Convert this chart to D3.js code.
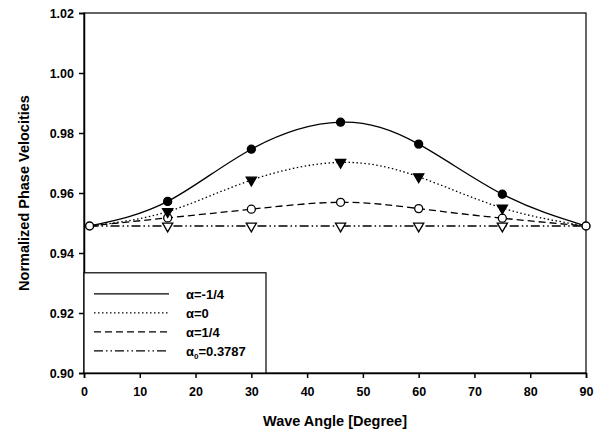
<!DOCTYPE html>
<html>
<head>
<meta charset="utf-8">
<script src="https://cdn.jsdelivr.net/npm/d3@7"></script>
<style>
body { margin: 0; background: #fff; }
svg { font-family: "Liberation Sans", Arial, sans-serif; }
.axis text { font-size: 12.5px; font-weight: bold; }
.axis path, .axis line { stroke: #000; stroke-width: 1.5; }
</style>
</head>
<body>
<script>
// data
var angles = [1, 15, 30, 46, 60, 75, 90];
var alphaNeg = [0.949, 0.9572, 0.9746, 0.9836, 0.9763, 0.9596, 0.949];
var alphaZero = [0.949, 0.9538, 0.9643, 0.9702, 0.9654, 0.9550, 0.949];
var alphaPos = [0.949, 0.9517, 0.9546, 0.9569, 0.9548, 0.9516, 0.949];
var alphaOpt = [0.949, 0.949, 0.949, 0.949, 0.949, 0.949, 0.949];
var xTicks = [0, 10, 20, 30, 40, 50, 60, 70, 80, 90];
var yTicks = [0.90, 0.92, 0.94, 0.96, 0.98, 1.00, 1.02];

var margin = {top: 13, right: 13, bottom: 61, left: 84},
    width = 599 - margin.left - margin.right,
    height = 434 - margin.top - margin.bottom;

var svg = d3.select("body").append("svg")
    .attr("width", 599)
    .attr("height", 434)
    .append("g")
        .attr("transform", "translate(" + margin.left + "," + margin.top + ")");

var x = d3.scaleLinear().domain([0, 90]).range([0, width]);
var y = d3.scaleLinear().domain([0.90, 1.02]).range([height, 0]);

// frame
svg.append("rect")
    .attr("width", width).attr("height", height)
    .attr("fill", "none").attr("stroke", "#000").attr("stroke-width", 1.2);

svg.append("g")
    .attr("class", "axis")
    .attr("transform", "translate(0," + height + ")")
    .call(d3.axisBottom(x).tickValues(xTicks).tickSize(5).tickPadding(9).tickFormat(d3.format("d")));

svg.append("g")
    .attr("class", "axis")
    .call(d3.axisLeft(y).tickValues(yTicks).tickSize(5).tickPadding(5).tickFormat(d3.format(".2f")));

svg.append("text")
    .attr("x", width / 2).attr("y", height + 53)
    .attr("text-anchor", "middle")
    .style("font-size", "14.5px").style("font-weight", "bold")
    .text("Wave Angle [Degree]");

svg.append("text")
    .attr("transform", "translate(" + (-55) + "," + (height / 2) + ") rotate(-90)")
    .attr("text-anchor", "middle")
    .style("font-size", "14.5px").style("font-weight", "bold")
    .text("Normalized Phase Velocities");

var series = [
    {vals: alphaNeg, dash: null, mark: "circle", fill: "#000", label: "α=-1/4"},
    {vals: alphaZero, dash: "1.5,2.5", mark: "tri", fill: "#000", label: "α=0"},
    {vals: alphaPos, dash: "7,4", mark: "circle", fill: "#fff", label: "α=1/4"},
    {vals: alphaOpt, dash: "9,3,1.5,3,1.5,3", mark: "tri", fill: "#fff", label: "α0=0.3787"}
];

var line = d3.line()
    .x(function(d) { return x(d[0]); })
    .y(function(d) { return y(d[1]); })
    .curve(d3.curveNatural);

var tri = d3.symbol().type(d3.symbolTriangle).size(45);

// draw lines then markers, last series first so -1/4 on top
for (var i = series.length - 1; i >= 0; i--) {
    var s = series[i];
    var pts = angles.map(function(a, k) { return [a, s.vals[k]]; });
    svg.append("path")
        .attr("d", line(pts))
        .attr("fill", "none")
        .attr("stroke", "#000")
        .attr("stroke-width", 1.3)
        .attr("stroke-dasharray", s.dash);
    var inner = pts.slice(1, pts.length - 1);
    if (s.mark === "circle") {
        svg.selectAll(null).data(inner).enter().append("circle")
            .attr("cx", function(d) { return x(d[0]); })
            .attr("cy", function(d) { return y(d[1]); })
            .attr("r", 4)
            .attr("fill", s.fill).attr("stroke", "#000").attr("stroke-width", 1.3);
    } else {
        svg.selectAll(null).data(inner).enter().append("path")
            .attr("d", tri)
            .attr("transform", function(d) { return "translate(" + x(d[0]) + "," + y(d[1]) + ") rotate(180)"; })
            .attr("fill", s.fill).attr("stroke", "#000").attr("stroke-width", 1.3);
    }
}

// end points (open circles)
svg.selectAll(null).data([[angles[0], alphaPos[0]], [angles[6], alphaPos[6]]]).enter().append("circle")
    .attr("cx", function(d) { return x(d[0]); })
    .attr("cy", function(d) { return y(d[1]); })
    .attr("r", 4)
    .attr("fill", "#fff").attr("stroke", "#000").attr("stroke-width", 1.5);

// legend
var legend = svg.append("g").attr("transform", "translate(0," + y(0.9334) + ")");
legend.append("rect")
    .attr("width", 182).attr("height", height - y(0.9334))
    .attr("fill", "#fff").attr("stroke", "#000").attr("stroke-width", 1.2);

series.forEach(function(s, i) {
    var ly = 21 + i * 19;
    legend.append("line")
        .attr("x1", 10).attr("x2", 85).attr("y1", ly).attr("y2", ly)
        .attr("stroke", "#000").attr("stroke-width", 1.3)
        .attr("stroke-dasharray", s.dash);
    var t = legend.append("text")
        .attr("x", 102).attr("y", ly + 5)
        .style("font-size", "13px").style("font-weight", "bold");
    if (i === 3) {
        t.append("tspan").text("α");
        t.append("tspan").attr("dy", 3).style("font-size", "8px").text("0");
        t.append("tspan").attr("dy", -3).text("=0.3787");
    } else {
        t.text(s.label);
    }
});
</script>
</body>
</html>
